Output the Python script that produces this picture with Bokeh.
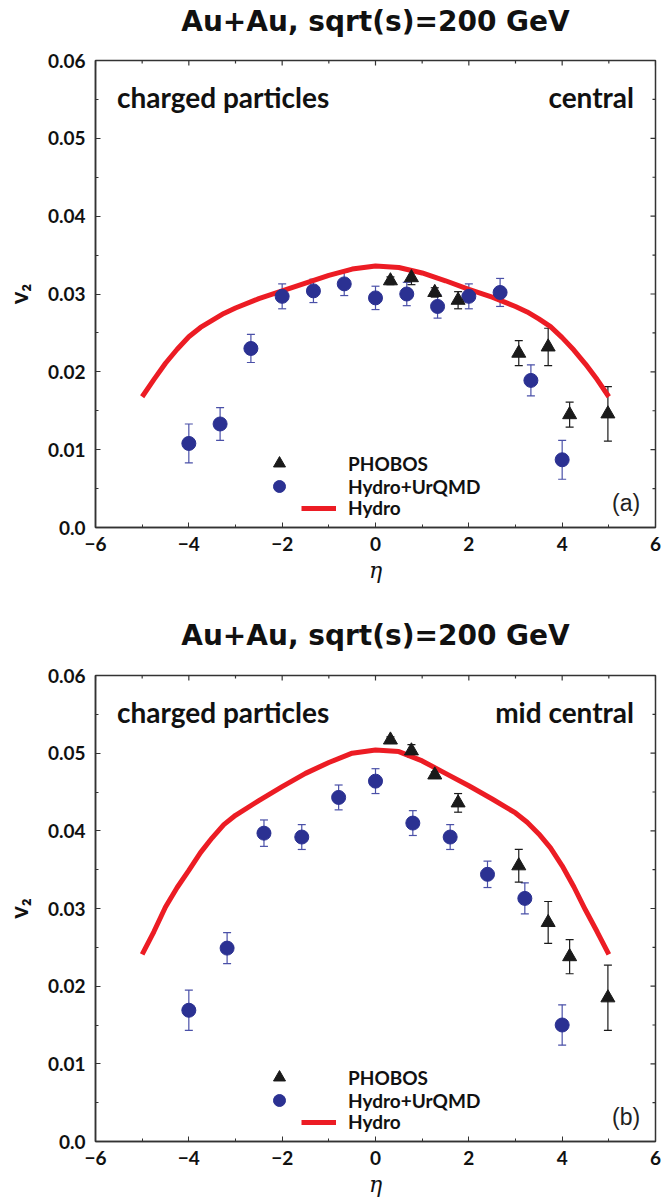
import math
from bokeh.plotting import figure
from bokeh.models import (ColumnDataSource, Whisker, TeeHead, FixedTicker,
                          CustomJSTickFormatter, Legend, LegendItem, Label, Range1d)
from bokeh.layouts import column
from bokeh.embed import file_html
from bokeh.resources import INLINE

# ---------------- data ----------------
title_text = "Au+Au, sqrt(s)=200 GeV"
x_ticks = [-6, -4, -2, 0, 2, 4, 6]
x_minor = [-5, -3, -1, 1, 3, 5]
y_ticks = [0.0, 0.01, 0.02, 0.03, 0.04, 0.05, 0.06]
y_minor = [0.005, 0.015, 0.025, 0.035, 0.045, 0.055]

eta_hydro = [-5, -4.75, -4.5, -4.25, -4, -3.75, -3.5, -3.25, -3, -2.5, -2, -1.5, -1, -0.5, 0,
             0.5, 1, 1.5, 2, 2.5, 3, 3.25, 3.5, 3.75, 4, 4.25, 4.5, 4.75, 5]
v2_hydro_central = [0.0168, 0.0190, 0.0211, 0.0229, 0.0245, 0.0257, 0.0266, 0.0275, 0.0282, 0.0294,
                    0.0304, 0.0314, 0.0324, 0.0332, 0.0336, 0.0334, 0.0327, 0.0317, 0.0306, 0.0296,
                    0.0284, 0.0277, 0.0268, 0.0258, 0.0244, 0.0228, 0.0210, 0.0190, 0.0168]
v2_hydro_mid = [0.0241, 0.0270, 0.0302, 0.0327, 0.0349, 0.0372, 0.0391, 0.0408, 0.0420, 0.0439,
                0.0457, 0.0474, 0.0488, 0.0500, 0.0504, 0.0502, 0.0490, 0.0474, 0.0458, 0.0441,
                0.0423, 0.0411, 0.0396, 0.0378, 0.0355, 0.0328, 0.0298, 0.0270, 0.0241]

eta_uq_central = [-4.0, -3.33, -2.67, -2.0, -1.33, -0.67, 0.0, 0.67, 1.33, 2.0, 2.67, 3.33, 4.0]
v2_uq_central = [0.0108, 0.0133, 0.0230, 0.0297, 0.0304, 0.0313, 0.0295, 0.0300, 0.0284, 0.0297, 0.0302, 0.0189, 0.0087]
err_uq_central = [0.0025, 0.0021, 0.0018, 0.0016, 0.0015, 0.0015, 0.0015, 0.0015, 0.0015, 0.0016, 0.0018, 0.0020, 0.0025]

eta_uq_mid = [-4.0, -3.18, -2.39, -1.58, -0.79, 0.0, 0.80, 1.60, 2.40, 3.20, 4.0]
v2_uq_mid = [0.0169, 0.0249, 0.0397, 0.0392, 0.0443, 0.0464, 0.0410, 0.0392, 0.0344, 0.0313, 0.0150]
err_uq_mid = [0.0026, 0.0020, 0.0017, 0.0016, 0.0016, 0.0016, 0.0016, 0.0016, 0.0017, 0.0020, 0.0026]

eta_phobos = [0.32, 0.77, 1.27, 1.77, 3.07, 3.70, 4.16, 4.98]
v2_phobos_central = [0.0317, 0.0321, 0.0302, 0.0292, 0.0224, 0.0232, 0.0145, 0.0146]
err_phobos_central = [0.0005, 0.0009, 0.0006, 0.0011, 0.0016, 0.0024, 0.0016, 0.0035]
v2_phobos_mid = [0.0517, 0.0503, 0.0472, 0.0436, 0.0355, 0.0282, 0.0238, 0.0185]
err_phobos_mid = [0.0004, 0.0008, 0.0004, 0.0012, 0.0021, 0.0027, 0.0022, 0.0042]

FONT = "Lato"
RED = "#ec1c24"
BLUE = "#2b3192"
EBLUE = "#4a50a8"
BLACK = "#1a1a1a"
AXC = "#333333"
TXT = "#111111"


def make_title(h, ypos):
    """A thin strip holding the panel title, aligned with the plot frame below it."""
    t = figure(width=662, height=h, output_backend="svg", toolbar_location=None,
               x_range=Range1d(x_ticks[0], x_ticks[-1]), y_range=Range1d(0, 1),
               x_axis_type=None, y_axis_type=None,
               min_border_left=94, min_border_right=7, min_border_top=0, min_border_bottom=0)
    t.grid.visible = False
    t.outline_line_color = None
    t.background_fill_color = "white"
    t.border_fill_color = "white"
    t.add_layout(Label(x=0, y=ypos, text=title_text, text_font="DejaVu Sans",
                       text_font_style="bold", text_font_size="28px", text_baseline="middle",
                       text_align="center", text_color=TXT))
    return t


def make_panel(h, top_b, bot_b, hydro, uq_x, uq_y, uq_e, ph_y, ph_e, centr, tag):
    p = figure(width=662, height=h, output_backend="svg", toolbar_location=None,
               x_range=Range1d(x_ticks[0], x_ticks[-1]), y_range=Range1d(y_ticks[0], y_ticks[-1]),
               min_border_left=94, min_border_right=7, min_border_top=top_b, min_border_bottom=bot_b,
               x_axis_label="η", y_axis_label="v₂")
    p.grid.visible = False
    p.outline_line_color = AXC
    p.outline_line_width = 1.5
    p.background_fill_color = "white"
    p.border_fill_color = "white"

    def style(ax):
        ax.axis_line_color = AXC
        ax.axis_line_width = 1.5
        ax.major_tick_line_color = AXC
        ax.minor_tick_line_color = AXC
        ax.major_tick_in = 5
        ax.major_tick_out = 0
        ax.minor_tick_in = 3
        ax.minor_tick_out = 0
        ax.major_label_text_font = FONT
        ax.major_label_text_font_style = "bold"
        ax.major_label_text_font_size = "19px"
        ax.major_label_text_color = TXT

    xa = p.xaxis[0]
    xa.ticker = FixedTicker(ticks=x_ticks, minor_ticks=x_minor)
    style(xa)
    xa.major_label_standoff = 9
    xa.axis_label_text_font = "DejaVu Serif"
    xa.axis_label_text_font_style = "italic"
    xa.axis_label_text_font_size = "22px"
    xa.axis_label_standoff = 4
    xa.axis_label_text_color = TXT

    ya = p.yaxis[0]
    ya.ticker = FixedTicker(ticks=y_ticks, minor_ticks=y_minor)
    ya.formatter = CustomJSTickFormatter(code="return Math.abs(tick) < 1e-9 ? '0.0' : tick.toFixed(2);")
    style(ya)
    ya.major_label_standoff = 10
    ya.axis_label_text_font = FONT
    ya.axis_label_text_font_style = "bold"
    ya.axis_label_text_font_size = "24px"
    ya.axis_label_standoff = 12
    ya.axis_label_text_color = TXT

    # mirrored inward ticks on top and right edges
    ytop, xright = y_ticks[-1], x_ticks[-1]
    p.ray(x=x_ticks, y=[ytop] * len(x_ticks), length=5, length_units="screen",
          angle=-math.pi / 2, line_color=AXC, line_width=1.2)
    p.ray(x=x_minor, y=[ytop] * len(x_minor), length=3, length_units="screen",
          angle=-math.pi / 2, line_color=AXC, line_width=1.2)
    p.ray(x=[xright] * len(y_ticks), y=y_ticks, length=5, length_units="screen",
          angle=math.pi, line_color=AXC, line_width=1.2)
    p.ray(x=[xright] * len(y_minor), y=y_minor, length=3, length_units="screen",
          angle=math.pi, line_color=AXC, line_width=1.2)

    # hydro line
    lr = p.line(eta_hydro, hydro, line_color=RED, line_width=5)

    # hydro+urqmd with errors
    su = ColumnDataSource(dict(x=uq_x, y=uq_y,
                               lo=[a - b for a, b in zip(uq_y, uq_e)],
                               hi=[a + b for a, b in zip(uq_y, uq_e)]))
    p.add_layout(Whisker(base="x", upper="hi", lower="lo", source=su, line_color=EBLUE, line_width=1.2,
                         upper_head=TeeHead(size=8, line_color=EBLUE, line_width=1.2),
                         lower_head=TeeHead(size=8, line_color=EBLUE, line_width=1.2)))
    cr = p.scatter("x", "y", source=su, marker="circle", size=14, fill_color=BLUE, line_color=BLUE)

    sp = ColumnDataSource(dict(x=eta_phobos, y=ph_y,
                               lo=[a - b for a, b in zip(ph_y, ph_e)],
                               hi=[a + b for a, b in zip(ph_y, ph_e)]))
    p.add_layout(Whisker(base="x", upper="hi", lower="lo", source=sp, line_color=BLACK, line_width=1.2,
                         upper_head=TeeHead(size=8, line_color=BLACK, line_width=1.2),
                         lower_head=TeeHead(size=8, line_color=BLACK, line_width=1.2)))
    tr = p.scatter("x", "y", source=sp, marker="triangle", size=14, fill_color=BLACK, line_color=BLACK)

    def leg(label, rend, loc, gw, gh, standoff):
        L = Legend(items=[LegendItem(label=label, renderers=[rend])], location=loc, padding=0, margin=0,
                   spacing=0, glyph_width=gw, glyph_height=gh, label_height=gh, label_standoff=standoff,
                   label_text_font=FONT, label_text_font_style="bold", label_text_font_size="19px",
                   label_text_color=TXT, border_line_color=None, background_fill_alpha=0)
        p.add_layout(L)

    leg("PHOBOS", tr, (169, 49), 30, 30, 54)
    leg("Hydro+UrQMD", cr, (169, 26), 30, 30, 54)
    leg("Hydro", lr, (206, 8), 35, 20, 12)

    p.add_layout(Label(x=-5.54, y=0.0553, text="charged particles", text_font=FONT, text_font_style="bold",
                       text_font_size="28px", text_baseline="middle", text_align="left", text_color=TXT))
    p.add_layout(Label(x=5.54, y=0.0553, text=centr, text_font=FONT, text_font_style="bold",
                       text_font_size="28px", text_baseline="middle", text_align="right", text_color=TXT))
    p.add_layout(Label(x=5.37, y=0.0032, text=tag, text_font="Liberation Sans",
                       text_font_size="23px", text_baseline="middle", text_align="center", text_color="#222222"))
    return p


t1 = make_title(40, 0.475)
p1 = make_panel(560, 20, 73, v2_hydro_central, eta_uq_central, v2_uq_central, err_uq_central,
                v2_phobos_central, err_phobos_central, "central", "(a)")
t2 = make_title(55, 0.364)
p2 = make_panel(546, 20, 60, v2_hydro_mid, eta_uq_mid, v2_uq_mid, err_uq_mid,
                v2_phobos_mid, err_phobos_mid, "mid central", "(b)")

p = column(t1, p1, t2, p2)
open("out.html", "w").write(file_html(p, INLINE))
